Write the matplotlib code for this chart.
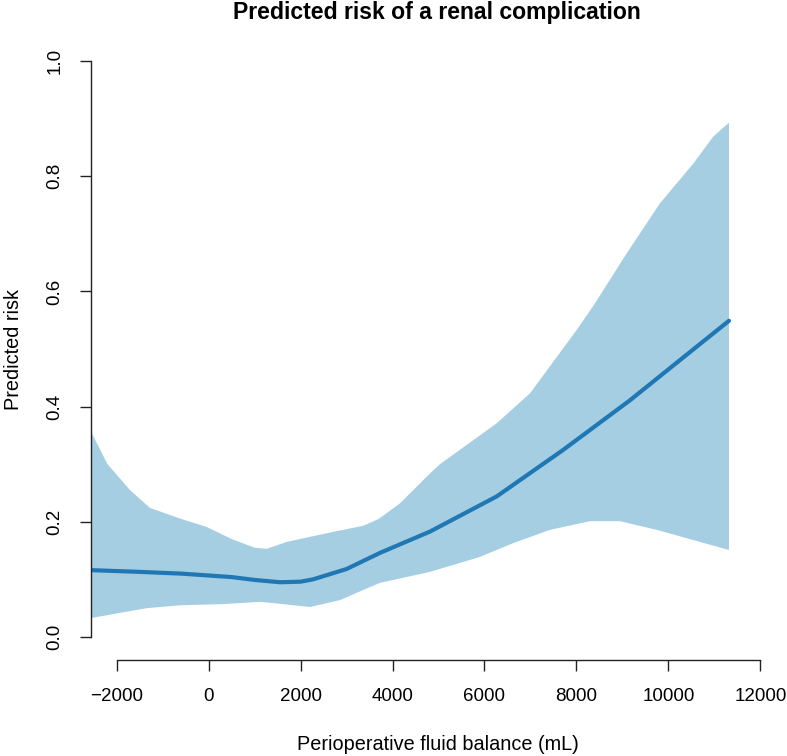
import matplotlib
matplotlib.use("Agg")
import matplotlib.pyplot as plt

plt.rcParams['font.family'] = ['Liberation Sans', 'DejaVu Sans']

# Fluid balance (mL) grid for each curve
x_mean = [-2550, -1500, -600, 500, 1000, 1552, 2000, 2270, 3000, 3727, 4815,
          6265, 7715, 9165, 10615, 11318]
y_mean = [0.116, 0.113, 0.110, 0.104, 0.099, 0.095, 0.096, 0.100, 0.118, 0.146,
          0.183, 0.244, 0.325, 0.411, 0.504, 0.549]

x_upper = [-2550, -2200, -1710, -1275, -600, -42, 500, 1000, 1263, 1700, 2270,
           2800, 3360, 3700, 4162, 4815, 5031, 6265, 6990, 7497, 8005, 8368,
           9093, 9817, 10542, 10977, 11318]
y_upper = [0.355, 0.300, 0.255, 0.224, 0.205, 0.191, 0.170, 0.155, 0.153, 0.165,
           0.175, 0.184, 0.193, 0.205, 0.232, 0.284, 0.300, 0.371, 0.423, 0.478,
           0.533, 0.575, 0.666, 0.753, 0.822, 0.869, 0.893]

x_lower = [-2550, -1348, -623, 300, 1121, 1500, 2205, 2858, 3200, 3727, 4815,
           5902, 6627, 7425, 8295, 8948, 9745, 11318]
y_lower = [0.033, 0.050, 0.055, 0.057, 0.061, 0.058, 0.052, 0.064, 0.076, 0.094,
           0.113, 0.139, 0.163, 0.186, 0.201, 0.201, 0.186, 0.151]

x_ticks = [-2000, 0, 2000, 4000, 6000, 8000, 10000, 12000]
y_ticks = [0.0, 0.2, 0.4, 0.6, 0.8, 1.0]

W, H = 787, 756
fig = plt.figure(figsize=(W / 100, H / 100), dpi=100)
ax = fig.add_axes([91 / W, 96 / H, (775 - 91) / W, (660 - 38) / H])

poly_x = x_upper + x_lower[::-1]
poly_y = y_upper + y_lower[::-1]
ax.fill(poly_x, poly_y, color='#a6cee3', lw=0)
ax.plot(x_mean, y_mean, color='#1f78b4', lw=3, solid_capstyle='round')

ax.set_xlim(-2559, 12319)
ax.set_ylim(-0.04, 1.04)

for s in ['top', 'right']:
    ax.spines[s].set_visible(False)
ax.spines['left'].set_bounds(0, 1)
ax.spines['bottom'].set_bounds(-2000, 12000)
for s in ['left', 'bottom']:
    ax.spines[s].set_linewidth(1.0)
    ax.spines[s].set_color('#222222')

ax.set_xticks(x_ticks)
ax.set_xticklabels([f"{v}".replace('-', '\u2212') for v in x_ticks])
ax.set_yticks(y_ticks)
ax.set_yticklabels([f"{v:.1f}" for v in y_ticks], rotation=90, va='center')
ax.tick_params(axis='both', direction='out', length=8, width=1.0,
               labelsize=13.5, color='#222222')
ax.tick_params(axis='x', pad=12)
ax.tick_params(axis='y', pad=12)

fig.text(437 / W, 1 - 12 / H, "Predicted risk of a renal complication",
         ha='center', va='center', fontsize=16.6, fontweight='bold')
fig.text(437.5 / W, 1 - 745 / H, "Perioperative fluid balance (mL)",
         ha='center', va='center', fontsize=14.3)
fig.text(14 / W, 1 - 349 / H, "Predicted risk", ha='center', va='center',
         rotation=90, fontsize=14.3)

fig.savefig("out.png", dpi=100)
